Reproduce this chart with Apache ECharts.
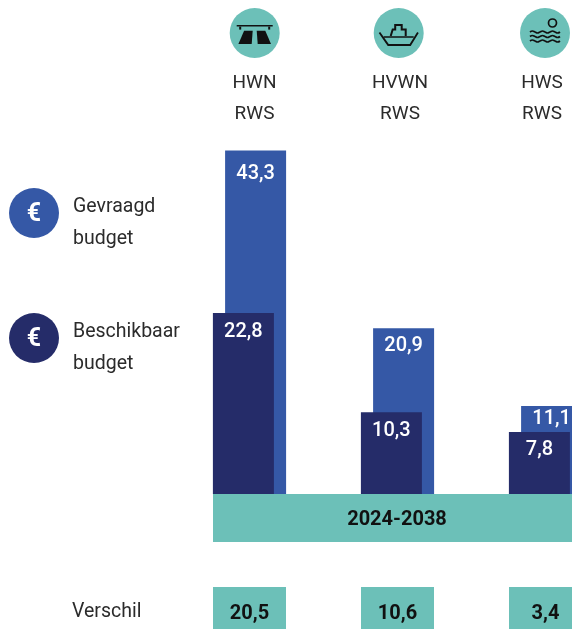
<!DOCTYPE html>
<html>
<head>
<meta charset="utf-8">
<style>
  html, body { margin: 0; padding: 0; background: #fff; }
  #chart { width: 572px; height: 629px; overflow: hidden; }
</style>
<script src="https://cdn.jsdelivr.net/npm/echarts@6/dist/echarts.min.js"></script>
</head>
<body>
<div id="chart"></div>
<script>
const categories = ['HWN', 'HVWN', 'HWS']
const owners = ['RWS', 'RWS', 'RWS']
const gevraagd = [43.3, 20.9, 11.1]
const beschikbaar = [22.8, 10.3, 7.8]
const verschil = ['20,5', '10,6', '3,4']
const periode = '2024-2038'

const font = 'Roboto'
const blue = '#3558a6'
const navy = '#252c69'
const teal = '#6cc0b8'
const ink = '#2b2b2b'
const nudge = [10, 5, -7]
// the labels do not sit at one distance from the bar top in the original
const gevraagdGap = [14, 8, 3]
const beschikbaarGap = [9, 9, 8]

const comma = (p) => p.value.toFixed(1).replace('.', ',')

const barLabel = {
  show: true,
  position: 'insideTop',
  formatter: comma,
  color: '#fff',
  fontFamily: font,
  fontWeight: 500,
  fontSize: 20
}

function euro (y) {
  return {
    type: 'text',
    x: 34,
    y,
    z: 10,
    silent: true,
    style: { text: '€', fill: '#fff', font: `bold 25px ${font}`, align: 'center', verticalAlign: 'middle' }
  }
}

function disc (x, children) {
  return {
    type: 'group',
    x,
    y: 33,
    silent: true,
    children: [{ type: 'circle', shape: { r: 25 }, style: { fill: teal } }].concat(children)
  }
}

const solid = (points) => ({ type: 'polygon', shape: { points }, style: { fill: '#111' } })
const wave = (y) => ({
  type: 'polyline',
  shape: {
    points: [[-15, y], [-12.5, y - 1], [-10, y], [-7.5, y + 1], [-5, y], [-2.5, y - 1], [0, y], [2.5, y + 1], [5, y], [7.5, y - 1], [10, y], [12.5, y + 1], [15, y]],
    smooth: 0.5
  },
  style: { fill: 'none', stroke: '#111', lineWidth: 1.7 }
})

const road = disc(254.7, [
  solid([[-18, -8], [18, -8], [18, -6.4], [-18, -6.4]]),
  solid([[-15.5, -6.4], [-13.5, -6.4], [-13.5, -3.4], [-15.5, -3.4]]),
  solid([[13.5, -6.4], [15.5, -6.4], [15.5, -3.4], [13.5, -3.4]]),
  solid([[-10.6, -2.3], [-2, -2.3], [-3, 11], [-16.3, 11]]),
  solid([[2, -2.3], [10.6, -2.3], [16.3, 11], [3, 11]])
])
const ship = disc(398.7, [
  solid([[-20, 0], [-18.5, -1], [-10, 11], [11, 11], [18.5, -1], [20, 0], [12, 13], [-11, 13]]),
  {
    type: 'polyline',
    shape: { points: [[-15, 4], [15, 4]] },
    style: { fill: 'none', stroke: '#111', lineWidth: 1.5 }
  },
  {
    type: 'polyline',
    shape: { points: [[-8, 3], [-6, -3.5], [-3.5, -3.5], [-3.5, -8], [3, -8], [3, -3.5], [7, -3.5], [7, 3]] },
    style: { fill: 'none', stroke: '#111', lineWidth: 2 }
  }
])
const water = disc(545, [
  { type: 'circle', shape: { cx: 7.5, cy: -10, r: 4 }, style: { fill: 'none', stroke: '#111', lineWidth: 1.7 } },
  wave(-1),
  wave(3.5),
  wave(8)
])

const option = {
  animation: false,
  backgroundColor: '#fff',
  textStyle: { fontFamily: font },
  legend: {
    orient: 'vertical',
    left: 9,
    top: 176,
    padding: 0,
    data: ['Gevraagd\nbudget', 'Beschikbaar\nbudget'],
    selectedMode: false,
    itemWidth: 50,
    itemHeight: 50,
    itemGap: 52,
    itemStyle: { borderWidth: 0 },
    icon: 'circle',
    // empty first line pushes the two text lines below the middle of the circle
    formatter: (name) => {
      const [first, second] = name.split('\n')
      return `{s| }\n{a|${first}}\n{a|${second}}`
    },
    textStyle: {
      padding: [0, 0, 0, 9],
      rich: {
        s: { fontSize: 10, lineHeight: 20 },
        a: { color: ink, fontFamily: font, fontSize: 19.5, lineHeight: 32 }
      }
    }
  },
  grid: { left: 175.5, width: 444, top: 137, height: 357, outerBoundsMode: 'none' },
  xAxis: [
    {
      type: 'category',
      position: 'top',
      data: categories.map((c, i) => ({
        value: `${c}\n${owners[i]}`,
        textStyle: { padding: [0, 0, 0, nudge[i]] }
      })),
      axisLine: { show: false },
      axisTick: { show: false },
      axisLabel: { interval: 0, margin: 7, color: ink, fontFamily: font, fontSize: 19, lineHeight: 31 }
    },
    {
      type: 'category',
      position: 'bottom',
      data: verschil,
      axisLine: { show: false },
      axisTick: { show: false },
      axisLabel: {
        interval: 0,
        margin: 93,
        width: 73,
        height: 54,
        lineHeight: 54,
        align: 'center',
        backgroundColor: teal,
        color: '#111',
        fontFamily: font,
        fontWeight: 700,
        fontSize: 20
      }
    }
  ],
  yAxis: { type: 'value', min: 0, max: 45, show: false, splitLine: { show: false } },
  series: [
    {
      name: 'Beschikbaar\nbudget',
      type: 'bar',
      z: 3,
      barWidth: 61,
      barGap: '-80%',
      itemStyle: { color: navy },
      label: barLabel,
      data: beschikbaar.map((value, i) => ({ value, label: { distance: beschikbaarGap[i] } }))
    },
    {
      name: 'Gevraagd\nbudget',
      type: 'bar',
      z: 2,
      barWidth: 61,
      itemStyle: { color: blue },
      label: barLabel,
      data: gevraagd.map((value, i) => ({ value, label: { distance: gevraagdGap[i] } }))
    }
  ],
  graphic: [
    { type: 'rect', shape: { x: 213, y: 494, width: 359, height: 48 }, style: { fill: teal }, silent: true },
    {
      type: 'text',
      x: 397,
      y: 519.5,
      silent: true,
      style: { text: periode, fill: '#111', font: `700 20px ${font}`, align: 'center', verticalAlign: 'middle' }
    },
    {
      type: 'text',
      x: 72,
      y: 612.5,
      silent: true,
      style: { text: 'Verschil', fill: ink, font: `19.5px ${font}`, verticalAlign: 'middle' }
    },
    euro(215),
    euro(340),
    road,
    ship,
    water
  ]
}

const myChart = echarts.init(document.getElementById('chart'))
myChart.setOption(option)
</script>
</body>
</html>
